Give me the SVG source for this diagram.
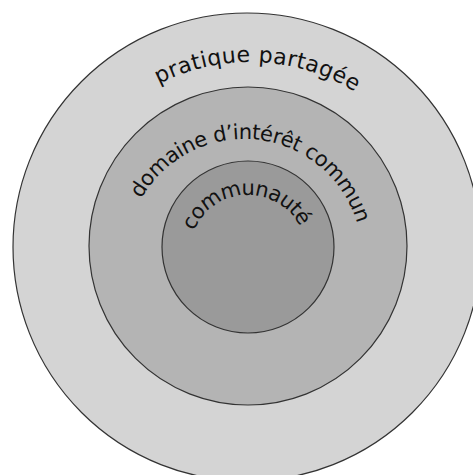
<svg xmlns="http://www.w3.org/2000/svg" width="473" height="475" viewBox="0 0 473 475">
  <style>
    .ring { stroke: #333333; stroke-width: 1.2; }
    .lbl { font-family: "DejaVu Sans", "Liberation Sans", sans-serif; fill: #111111; }
  </style>
  <defs>
    <path id="arcOuter" d="M158.7,84.1 A200,200 0 0 1 356.9,93.0"/>
    <path id="arcMiddle" d="M141.3,198.9 A118,118 0 0 1 357.7,225.3"/>
    <path id="arcInner" d="M193.7,231.0 A59,59 0 0 1 300.6,227.2"/>
  </defs>
  <rect width="473" height="475" fill="#ffffff"/>
  <g id="pratique-partagee">
    <circle class="ring" cx="247" cy="247" r="234" fill="#d4d4d4"/>
    <text class="lbl" font-size="22"><textPath href="#arcOuter" textLength="205" lengthAdjust="spacing">pratique partagée</textPath></text>
  </g>
  <g id="domaine-interet-commun">
    <circle class="ring" cx="248" cy="246" r="159" fill="#b4b4b4"/>
    <text class="lbl" font-size="21"><textPath href="#arcMiddle" textLength="276" lengthAdjust="spacing">domaine d’intérêt commun</textPath></text>
  </g>
  <g id="communaute">
    <circle class="ring" cx="248" cy="247" r="86" fill="#9a9a9a"/>
    <text class="lbl" font-size="21"><textPath href="#arcInner" textLength="133" lengthAdjust="spacing">communauté</textPath></text>
  </g>
  <g id="connectors"/>
</svg>
